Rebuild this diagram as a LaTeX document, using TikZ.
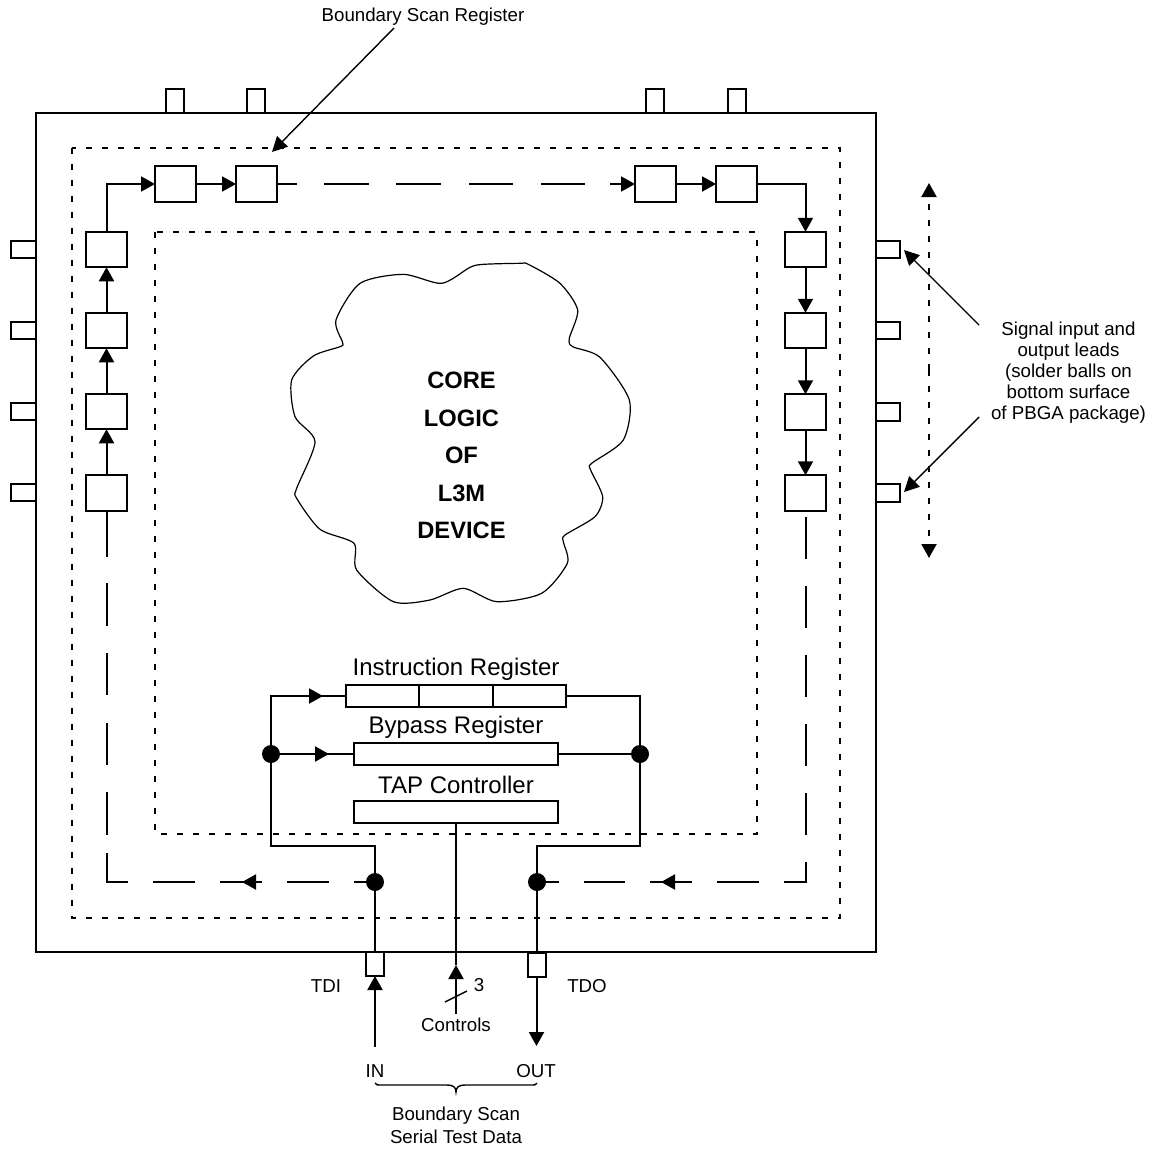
\documentclass[tikz,border=0pt]{standalone}
\usepackage{fontspec}
\setmainfont{Liberation Sans}
\usetikzlibrary{arrows.meta}
\tikzset{
  ln/.style={line width=2pt},
  thinln/.style={line width=1.4pt},
  tip/.style={-{Triangle[length=14pt,width=15pt]}},
  bigtip/.style={-{Triangle[length=15pt,width=15pt]}},
  reg/.style={draw,ln,rectangle,inner sep=0pt,outer sep=0pt,minimum width=41pt,minimum height=35.5pt},
  hpin/.style={draw,ln,rectangle,inner sep=0pt,outer sep=0pt,minimum width=24.5pt,minimum height=17.5pt},
  vpin/.style={draw,ln,rectangle,inner sep=0pt,outer sep=0pt,minimum width=18pt,minimum height=24pt},
  wide/.style={draw,ln,rectangle,inner sep=0pt,outer sep=0pt,minimum height=22pt},
  dot/.style={circle,fill=black,inner sep=0pt,outer sep=0pt,minimum size=18pt},
  dotted box/.style={ln,dash pattern=on 6pt off 10pt},
  small/.style={font=\fontsize{18.7}{21}\selectfont,inner sep=0pt,outer sep=0pt},
  big/.style={font=\fontsize{24}{28}\selectfont,inner sep=0pt,outer sep=0pt},
  core/.style={font=\fontsize{23.7}{37.4}\selectfont\bfseries,inner sep=0pt,outer sep=0pt,align=center},
}
\begin{document}
\begin{tikzpicture}[x=1pt,y=-1pt]
\useasboundingbox (0,0) rectangle (1154,1149);
% package and pins
\node[vpin] (P1) at (175,101) {};
\node[vpin] (P2) at (256,101) {};
\node[vpin] (P3) at (655,101) {};
\node[vpin] (P4) at (737,101) {};
\node[hpin] (PL1) at (23.5,249.5) {};
\node[hpin] (PL2) at (23.5,330.5) {};
\node[hpin] (PL3) at (23.5,411.5) {};
\node[hpin] (PL4) at (23.5,492.5) {};
\node[hpin] (PR1) at (888,249.5) {};
\node[hpin] (PR2) at (888,330.5) {};
\node[hpin] (PR3) at (888,412) {};
\node[hpin] (PR4) at (888,493) {};
\node[vpin] (TDI) at (375,964) {};
\node[vpin] (TDOp) at (536.5,964.5) {};
\draw[ln] (36,113) rectangle (876,952);
\draw[dotted box] (72,148) rectangle (840,918);
\draw[dotted box] (155,232) rectangle (757,834);
% boundary scan cells
\node[reg] (T1) at (175.5,184) {};
\node[reg] (T2) at (256.5,184) {};
\node[reg] (T3) at (655.5,184) {};
\node[reg] (T4) at (736.5,184) {};
\node[reg] (L1) at (106.5,249.5) {};
\node[reg] (L2) at (106.5,330.5) {};
\node[reg] (L3) at (106.5,411.5) {};
\node[reg] (L4) at (106.5,493) {};
\node[reg] (R1) at (805.5,249.5) {};
\node[reg] (R2) at (805.5,330.5) {};
\node[reg] (R3) at (805.5,412) {};
\node[reg] (R4) at (805.5,493) {};
\draw[ln,tip] (L1.north) |- (T1.west);
\draw[ln,tip] (T1.east) -- (T2.west);
\draw[ln,tip,dash pattern=on 20pt off 27pt on 45pt off 27pt on 45pt off 28pt on 44pt off 28pt on 44pt off 25pt on 100pt] (T2.east) -- (T3.west);
\draw[ln,tip] (T3.east) -- (T4.west);
\draw[ln,tip] (T4.east) -| (R1.north);
\draw[ln,tip] (R1.south) -- (R2.north);
\draw[ln,tip] (R2.south) -- (R3.north);
\draw[ln,tip] (R3.south) -- (R4.north);
\draw[ln,tip] (L4.north) -- (L3.south);
\draw[ln,tip] (L3.north) -- (L2.south);
\draw[ln,tip] (L2.north) -- (L1.south);
% cloud
\begin{scope}[shift={(280,250)},x=0.33333pt,y=-0.33333pt]
\draw[line width=1.2pt,line join=round] plot[smooth cycle,tension=0.45] coordinates {
(485,100) (570,52) (610,43) (720,40) (745,43) (840,100) (893,180) (868,265) (878,290)
(960,322) (1048,450) (1030,570) (935,640) (932,660) (968,740) (945,800) (855,855) (850,875)
(862,940) (785,1030) (650,1055) (550,1015) (450,1050) (340,1055) (230,960) (222,880) (120,838)
(50,745) (50,715) (105,575) (45,500) (35,390) (100,318) (180,290) (188,278) (168,210) (240,100) (370,73)};
\end{scope}
\node[core] (coretxt) at (461.5,455.5) {CORE\\LOGIC\\OF\\L3M\\DEVICE};
% registers
\node[wide,minimum width=220pt] (IR) at (456,696) {};
\node[wide,minimum width=204pt] (BP) at (456,754) {};
\node[wide,minimum width=204pt] (TAP) at (456,812) {};
\coordinate (IRa) at (419,685);
\coordinate (IRb) at (419,707);
\coordinate (IRc) at (493,685);
\coordinate (IRd) at (493,707);
\draw[ln] (IRa) -- (IRb);
\draw[ln] (IRc) -- (IRd);
\node[big,anchor=base] (irt) at (456,675) {Instruction Register};
\node[big,anchor=base] (bpt) at (456,733) {Bypass Register};
\node[big,anchor=base] (tapt) at (456,793) {TAP Controller};
% wires
\coordinate (BL) at (271,846);
\coordinate (BR) at (640,846);
\coordinate (TL) at (375,846);
\coordinate (TR) at (537,846);
\node[dot] (JB) at (271,754) {};
\node[dot] (JC) at (640,754) {};
\node[dot] (JL) at (375,882) {};
\node[dot] (JR) at (537,882) {};
\draw[ln] (IR.west) -| (JB.center);
\draw[ln] (BP.west) -- (JB.center);
\draw[ln] (JB.center) -- (BL) -- (TL) -- (TDI.north);
\draw[ln] (IR.east) -| (JC.center);
\draw[ln] (BP.east) -- (JC.center);
\draw[ln] (JC.center) -- (BR) -- (TR) -- (TR |- TDOp.north);
\coordinate (a1) at (305,696);
\coordinate (a1t) at (323,696);
\draw[ln,tip] (a1) -- (a1t);
\coordinate (a2) at (311,754);
\coordinate (a2t) at (329,754);
\draw[ln,tip] (a2) -- (a2t);
% dashed return runs
\draw[ln,dash pattern=on 21pt off 25pt on 42pt off 25pt on 42pt off 25pt on 42pt off 25pt on 51pt off 18pt on 43pt off 27pt on 42pt off 28pt on 42pt off 27pt on 43pt off 26pt on 45pt off 100pt] (JL.center) -| (L4.south);
\draw[ln,dash pattern=on 22pt off 25pt on 41pt off 25pt on 42pt off 25pt on 42pt off 25pt on 42pt off 27pt on 42pt off 27pt on 42pt off 27pt on 42pt off 27pt on 42pt off 27pt on 42pt off 100pt] (JR.center) -| (R4.south);
\coordinate (b1) at (258,882);
\coordinate (b1t) at (242,882);
\draw[ln,tip] (b1) -- (b1t);
\coordinate (b2) at (677,882);
\coordinate (b2t) at (661,882);
\draw[ln,tip] (b2) -- (b2t);
% bottom
\coordinate (ctrl) at (456,1014);
\coordinate (ctrlt) at (456,965);
\draw[ln] (TAP.south) -- (ctrlt);
\draw[ln,tip] (ctrl) -- (ctrlt);
\coordinate (sl1) at (445,1002);
\coordinate (sl2) at (467,991);
\draw[thinln] (sl1) -- (sl2);
\coordinate (inb) at (375,1047);
\draw[ln,tip] (inb) -- (TDI.south);
\coordinate (outb) at (536.5,1046);
\draw[ln,tip] (TDOp.south) -- (outb);
\node[small,anchor=base] (tdit) at (326,992) {TDI};
\node[small,anchor=base] (tdot) at (587,992) {TDO};
\node[small,anchor=base] (three) at (479,991) {3};
\node[small,anchor=base] (ctrlx) at (456,1031) {Controls};
\node[small,anchor=base] (int) at (375,1077) {IN};
\node[small,anchor=base] (outt) at (536,1077) {OUT};
\draw[thinln] (375,1083) .. controls (375.5,1085) and (377,1085) .. (383,1085) -- (447,1085) .. controls (453,1085) and (456,1087) .. (456,1092) .. controls (456,1087) and (459,1085) .. (465,1085) -- (530,1085) .. controls (535,1085) and (536.5,1085) .. (537,1083);
\node[small,anchor=base] (bs1) at (456,1120) {Boundary Scan};
\node[small,anchor=base] (bs2) at (456,1143) {Serial Test Data};
% annotations
\node[small,anchor=base] (bsr) at (423,21.5) {Boundary Scan Register};
\coordinate (bsrs) at (394,28);
\coordinate (bsre) at (272,152);
\draw[thinln,bigtip] (bsrs) -- (bsre);
\node[small,align=center,font=\fontsize{18.7}{21}\selectfont] (sig) at (1068.5,372.5) {Signal input and\\output leads\\(solder balls on\\bottom surface\\of PBGA package)};
\coordinate (s1) at (979,325);
\coordinate (s1t) at (904,250);
\draw[thinln,bigtip] (s1) -- (s1t);
\coordinate (s2) at (979,417);
\coordinate (s2t) at (904,492);
\draw[thinln,bigtip] (s2) -- (s2t);
\coordinate (v1) at (929,370);
\coordinate (v1t) at (929,183);
\coordinate (v2t) at (929,558);
\draw[ln,dash pattern=on 6pt off 10pt,tip] (v1) -- (v1t);
\draw[ln,dash pattern=on 6pt off 10pt,tip] (v1) -- (v2t);
\end{tikzpicture}
\end{document}
